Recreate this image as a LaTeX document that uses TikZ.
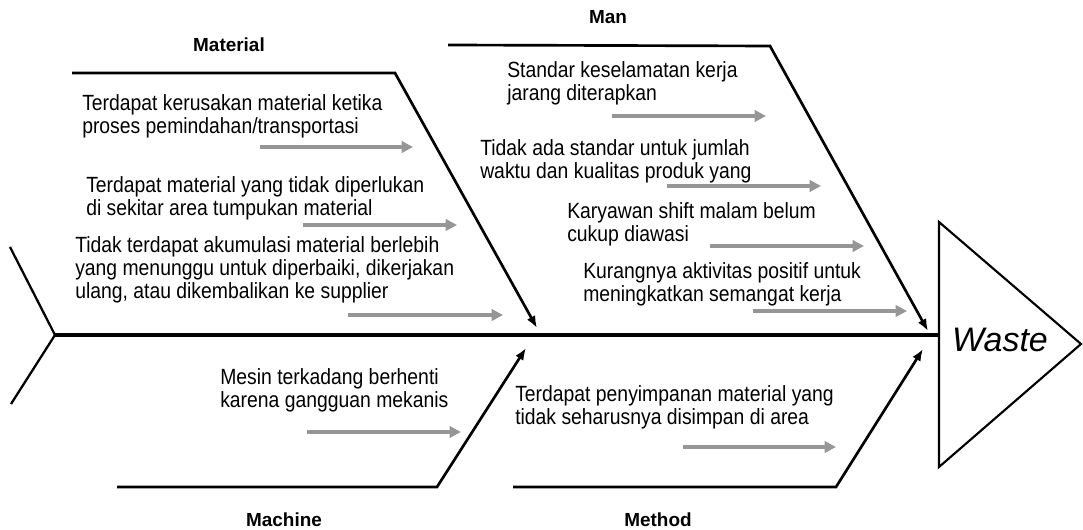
\documentclass[tikz,border=0pt]{standalone}
\usepackage{fontspec}
\setmainfont{Liberation Sans}
\newfontfamily\causefont[FakeStretch=0.88]{Liberation Sans}
\usetikzlibrary{arrows.meta}
\definecolor{arrowgray}{RGB}{150,150,150}
\begin{document}
\begin{tikzpicture}[x=0.75pt,y=-0.75pt,
  cause/.style={anchor=west,align=left,inner sep=0pt,font=\causefont\fontsize{16.5}{17.2}\selectfont},
  catlabel/.style={inner sep=0pt,font=\bfseries\fontsize{14.2}{16}\selectfont},
  bone/.style={line width=2pt,-{Latex[length=9pt,width=7pt]}},
  subarrow/.style={draw=arrowgray,line width=2.4pt,-{Triangle[length=8.5pt,width=8.5pt]}},
  spine/.style={line width=3.4pt},
  tail/.style={line width=1.7pt}]
\useasboundingbox (0,0) rectangle (1083,530);
% head
\coordinate (h1) at (939,222);
\coordinate (h2) at (1081,344);
\coordinate (h3) at (939,467);
\draw[line width=1.6pt,line join=miter] (h1) -- (h2) -- (h3) -- cycle;
\node[inner sep=0pt,font=\itshape\fontsize{25.5}{28}\selectfont] (waste) at (1000,340) {Waste};
% spine and tail
\coordinate (s0) at (55,335);
\coordinate (s1) at (939,335);
\coordinate (t1) at (10,247);
\coordinate (t2) at (11,404);
\draw[spine] (s0) -- (s1);
\draw[tail] (t1) -- (s0) -- (t2);
% bones
\coordinate (ma0) at (72,73);  \coordinate (ma1) at (395,73);  \coordinate (ma2) at (537,328);
\coordinate (mn0) at (448,45); \coordinate (mn1) at (770,46);  \coordinate (mn2) at (928,331);
\coordinate (mc0) at (117,487);\coordinate (mc1) at (437,487); \coordinate (mc2) at (526,348);
\coordinate (me0) at (513,487);\coordinate (me1) at (836,487); \coordinate (me2) at (923,349);
\draw[bone] (ma0) -- (ma1) -- (ma2);
\draw[bone] (mn0) -- (mn1) -- (mn2);
\draw[bone] (mc0) -- (mc1) -- (mc2);
\draw[bone] (me0) -- (me1) -- (me2);
% category labels
\node[catlabel] (lmat) at (229,45) {Material};
\node[catlabel] (lman) at (608,17) {Man};
\node[catlabel] (lmac) at (284,520) {Machine};
\node[catlabel] (lmet) at (658,520) {Method};
% causes
\node[cause] (c1) at (82,116.5) {Terdapat kerusakan material ketika\\proses pemindahan/transportasi};
\node[cause] (c2) at (86,198) {Terdapat material yang tidak diperlukan\\di sekitar area tumpukan material};
\node[cause] (c3) at (75,270) {Tidak terdapat akumulasi material berlebih\\yang menunggu untuk diperbaiki, dikerjakan\\ulang, atau dikembalikan ke supplier};
\node[cause] (c4) at (507,83.5) {Standar keselamatan kerja\\jarang diterapkan};
\node[cause] (c5) at (480,161) {Tidak ada standar untuk jumlah\\waktu dan kualitas produk yang};
\node[cause] (c6) at (567,224.5) {Karyawan shift malam belum\\cukup diawasi};
\node[cause] (c7) at (583,284.5) {Kurangnya aktivitas positif untuk\\meningkatkan semangat kerja};
\node[cause] (c8) at (220,390.5) {Mesin terkadang berhenti\\karena gangguan mekanis};
\node[cause] (c9) at (515,407) {Terdapat penyimpanan material yang\\tidak seharusnya disimpan di area};
% gray arrows
\coordinate (a1s) at (260,147); \coordinate (a1e) at (413,147);
\coordinate (a2s) at (303,225); \coordinate (a2e) at (457,225);
\coordinate (a3s) at (348,315); \coordinate (a3e) at (503,315);
\coordinate (a4s) at (612,116); \coordinate (a4e) at (766,116);
\coordinate (a5s) at (667,186); \coordinate (a5e) at (821,186);
\coordinate (a6s) at (710,246); \coordinate (a6e) at (864,246);
\coordinate (a7s) at (753,311); \coordinate (a7e) at (907,311);
\coordinate (a8s) at (307,432); \coordinate (a8e) at (461,432);
\coordinate (a9s) at (683,447); \coordinate (a9e) at (836,447);
\foreach \i in {1,...,9} {\draw[subarrow] (a\i s) -- (a\i e);}
\end{tikzpicture}
\end{document}
